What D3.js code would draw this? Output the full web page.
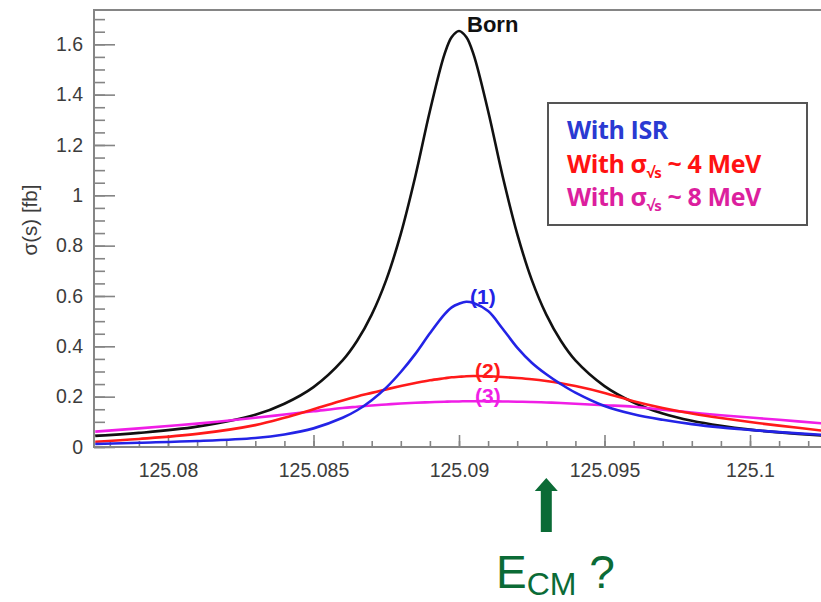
<!DOCTYPE html>
<html>
<head>
<meta charset="utf-8">
<script src="https://cdn.jsdelivr.net/npm/d3@7"></script>
<style>
  html, body { margin: 0; padding: 0; background: #fff; }
  svg { display: block; }
</style>
</head>
<body>
<svg id="chart" width="821" height="602"></svg>
<script>
// ---------------- data ----------------
const energy = [125.0775, 125.079, 125.081, 125.083, 125.084, 125.085, 125.086, 125.0865, 125.087, 125.0875,
  125.088, 125.0885, 125.089, 125.0895, 125.08975, 125.09, 125.09025, 125.0905, 125.091, 125.0915,
  125.092, 125.0925, 125.093, 125.0935, 125.094, 125.095, 125.096, 125.097, 125.098, 125.099,
  125.1, 125.101, 125.1025];

const born = [0.044, 0.056, 0.081, 0.128, 0.172, 0.238, 0.344, 0.422, 0.526, 0.664,
  0.847, 1.076, 1.335, 1.560, 1.629, 1.653, 1.629, 1.560, 1.335, 1.076,
  0.847, 0.664, 0.526, 0.422, 0.344, 0.242, 0.177, 0.133, 0.104, 0.084,
  0.069, 0.058, 0.045];

const withISR = [0.012, 0.017, 0.024, 0.036, 0.050, 0.074, 0.116, 0.146, 0.186, 0.236,
  0.298, 0.370, 0.452, 0.527, 0.555, 0.569, 0.577, 0.572, 0.540, 0.470,
  0.395, 0.335, 0.289, 0.250, 0.216, 0.163, 0.130, 0.108, 0.091, 0.078,
  0.068, 0.059, 0.048];

const spread4 = [0.021, 0.032, 0.052, 0.087, 0.116, 0.150, 0.185, 0.201, 0.215, 0.229,
  0.242, 0.254, 0.265, 0.273, 0.277, 0.279, 0.281, 0.282, 0.281, 0.278,
  0.274, 0.269, 0.262, 0.253, 0.242, 0.215, 0.182, 0.155, 0.133, 0.115,
  0.099, 0.085, 0.065];

const spread8 = [0.061, 0.074, 0.093, 0.116, 0.129, 0.142, 0.155, 0.160, 0.165, 0.169,
  0.173, 0.176, 0.178, 0.180, 0.181, 0.181, 0.182, 0.182, 0.182, 0.181,
  0.180, 0.179, 0.177, 0.175, 0.172, 0.166, 0.160, 0.148, 0.137, 0.126,
  0.117, 0.108, 0.094];

const xTicks = [125.08, 125.085, 125.09, 125.095, 125.1];
const xTickLabels = ["125.08", "125.085", "125.09", "125.095", "125.1"];
const yTicks = [0, 0.2, 0.4, 0.6, 0.8, 1, 1.2, 1.4, 1.6];
const yTickLabels = ["0", "0.2", "0.4", "0.6", "0.8", "1", "1.2", "1.4", "1.6"];
const xDomain = [125.0775, 125.1025];
const yDomain = [0, 1.735];
const ecmGuess = 125.093;

// ---------------- layout ----------------
const svg = d3.select("#chart");
const pL = 94, pT = 10, pB = 447, pR = 821;
const x = d3.scaleLinear().domain([125.08, 125.1]).range([168, 750]);
const y = d3.scaleLinear().domain([0, 1.6]).range([pB, 44.3]);
const axisColor = "#858585";
const labelColor = "#3c3c3c";
const font = "'Liberation Sans', Arial, Helvetica, sans-serif";

svg.append("defs").append("clipPath").attr("id", "plotclip")
  .append("rect").attr("x", pL).attr("y", pT).attr("width", pR - pL).attr("height", pB - pT);

// minor ticks
const xMinor = d3.range(125.078, 125.1026, 0.001).filter(v => v <= xDomain[1]);
const yMinor = d3.range(0, 1.7001, 0.05);

svg.append("g").attr("transform", `translate(0,${pB})`)
  .call(d3.axisBottom(x).tickValues(xMinor).tickSize(-6).tickFormat(""))
  .call(g => g.select(".domain").remove())
  .call(g => g.selectAll("line").attr("stroke", axisColor).attr("stroke-width", 1.6));

svg.append("g").attr("transform", `translate(${pL},0)`)
  .call(d3.axisLeft(y).tickValues(yMinor).tickSize(-11).tickFormat(""))
  .call(g => g.select(".domain").remove())
  .call(g => g.selectAll("line").attr("stroke", axisColor).attr("stroke-width", 1.6));

// major ticks
svg.append("g").attr("transform", `translate(0,${pB})`)
  .call(d3.axisBottom(x).tickValues(xTicks).tickSize(-12).tickPadding(16)
    .tickFormat((d, i) => xTickLabels[i]))
  .call(g => g.select(".domain").remove())
  .call(g => g.selectAll("line").attr("stroke", axisColor).attr("stroke-width", 1.6))
  .call(g => g.selectAll("text").attr("fill", labelColor).attr("font-size", 19.5).attr("font-family", font));

svg.append("g").attr("transform", `translate(${pL},0)`)
  .call(d3.axisLeft(y).tickValues(yTicks).tickSize(-21).tickPadding(11)
    .tickFormat((d, i) => yTickLabels[i]))
  .call(g => g.select(".domain").remove())
  .call(g => g.selectAll("line").attr("stroke", axisColor).attr("stroke-width", 1.6))
  .call(g => g.selectAll("text").attr("fill", labelColor).attr("font-size", 19.5).attr("font-family", font));

// frame
svg.append("path")
  .attr("d", `M${pR},${pT}H${pL}V${pB}H${pR}`)
  .attr("fill", "none").attr("stroke", axisColor).attr("stroke-width", 2);

// y-axis title
svg.append("text")
  .attr("transform", `translate(37,${220}) rotate(-90)`)
  .attr("text-anchor", "middle")
  .attr("font-family", font).attr("font-size", 20.5).attr("fill", labelColor)
  .text("σ(s) [fb]");

// curves
const series = [
  { values: born, color: "#111111" },
  { values: spread8, color: "#f01ee6" },
  { values: spread4, color: "#ff1a1a" },
  { values: withISR, color: "#2323e6" }
];
const line = d3.line().x(d => x(d[0])).y(d => y(d[1])).curve(d3.curveCatmullRom.alpha(0.5));
const plot = svg.append("g").attr("clip-path", "url(#plotclip)");
series.forEach(s => {
  plot.append("path")
    .datum(energy.map((e, i) => [e, s.values[i]]))
    .attr("d", line)
    .attr("fill", "none")
    .attr("stroke", s.color)
    .attr("stroke-width", 2.6)
    .attr("stroke-linejoin", "round");
});

// curve labels
const boldFont = "'Liberation Sans', Arial, Helvetica, sans-serif";
svg.append("text").attr("x", 467).attr("y", 32).attr("font-family", boldFont)
  .attr("font-weight", "bold").attr("font-size", 22).attr("fill", "#111").text("Born");
svg.append("text").attr("x", 470).attr("y", 304).attr("font-family", boldFont)
  .attr("font-weight", "bold").attr("font-size", 21).attr("fill", "#2323e6").text("(1)");
svg.append("text").attr("x", 475).attr("y", 378).attr("font-family", boldFont)
  .attr("font-weight", "bold").attr("font-size", 21).attr("fill", "#ff1a1a").text("(2)");
svg.append("text").attr("x", 475).attr("y", 403).attr("font-family", boldFont)
  .attr("font-weight", "bold").attr("font-size", 21).attr("fill", "#f01ee6").text("(3)");

// legend
svg.append("rect").attr("x", 548).attr("y", 103).attr("width", 259).attr("height", 122)
  .attr("fill", "#fff").attr("stroke", "#555").attr("stroke-width", 2);
const legFont = "'Open Sans', 'Noto Sans', sans-serif";
const legend = [
  { parts: [["With ISR", 0]], color: "#2a3ad2", yb: 139 },
  { parts: [["With σ", 0], ["√s", 1], [" ~ 4 MeV", 0]], color: "#ff1212", yb: 173 },
  { parts: [["With σ", 0], ["√s", 1], [" ~ 8 MeV", 0]], color: "#dc1f9e", yb: 206 }
];
legend.forEach(l => {
  const t = svg.append("text").attr("x", 567).attr("y", l.yb)
    .attr("font-family", legFont).attr("font-weight", 700).attr("font-size", 25)
    .attr("fill", l.color).attr("letter-spacing", -0.4);
  l.parts.forEach((p, k) => {
    const ts = t.append("tspan").text(p[0]);
    if (p[1] === 1) ts.attr("font-size", 15).attr("dy", 5);
    else if (k > 0) ts.attr("dy", -5);
  });
});

// arrow and E_CM ?
const green = "#0b6b36";
const ax = x(ecmGuess);
svg.append("path")
  .attr("d", `M${ax},478 L${ax + 11.5},491 L${ax + 5.5},491 L${ax + 5.5},532 L${ax - 5.5},532 L${ax - 5.5},491 L${ax - 11.5},491 Z`)
  .attr("fill", green);
const ecm = svg.append("text").attr("x", 496).attr("y", 588)
  .attr("font-family", font).attr("font-size", 46).attr("fill", green);
ecm.append("tspan").text("E");
ecm.append("tspan").attr("font-size", 32).attr("dy", 7).text("CM");
ecm.append("tspan").attr("dy", -7).text(" ?");
</script>
</body>
</html>
